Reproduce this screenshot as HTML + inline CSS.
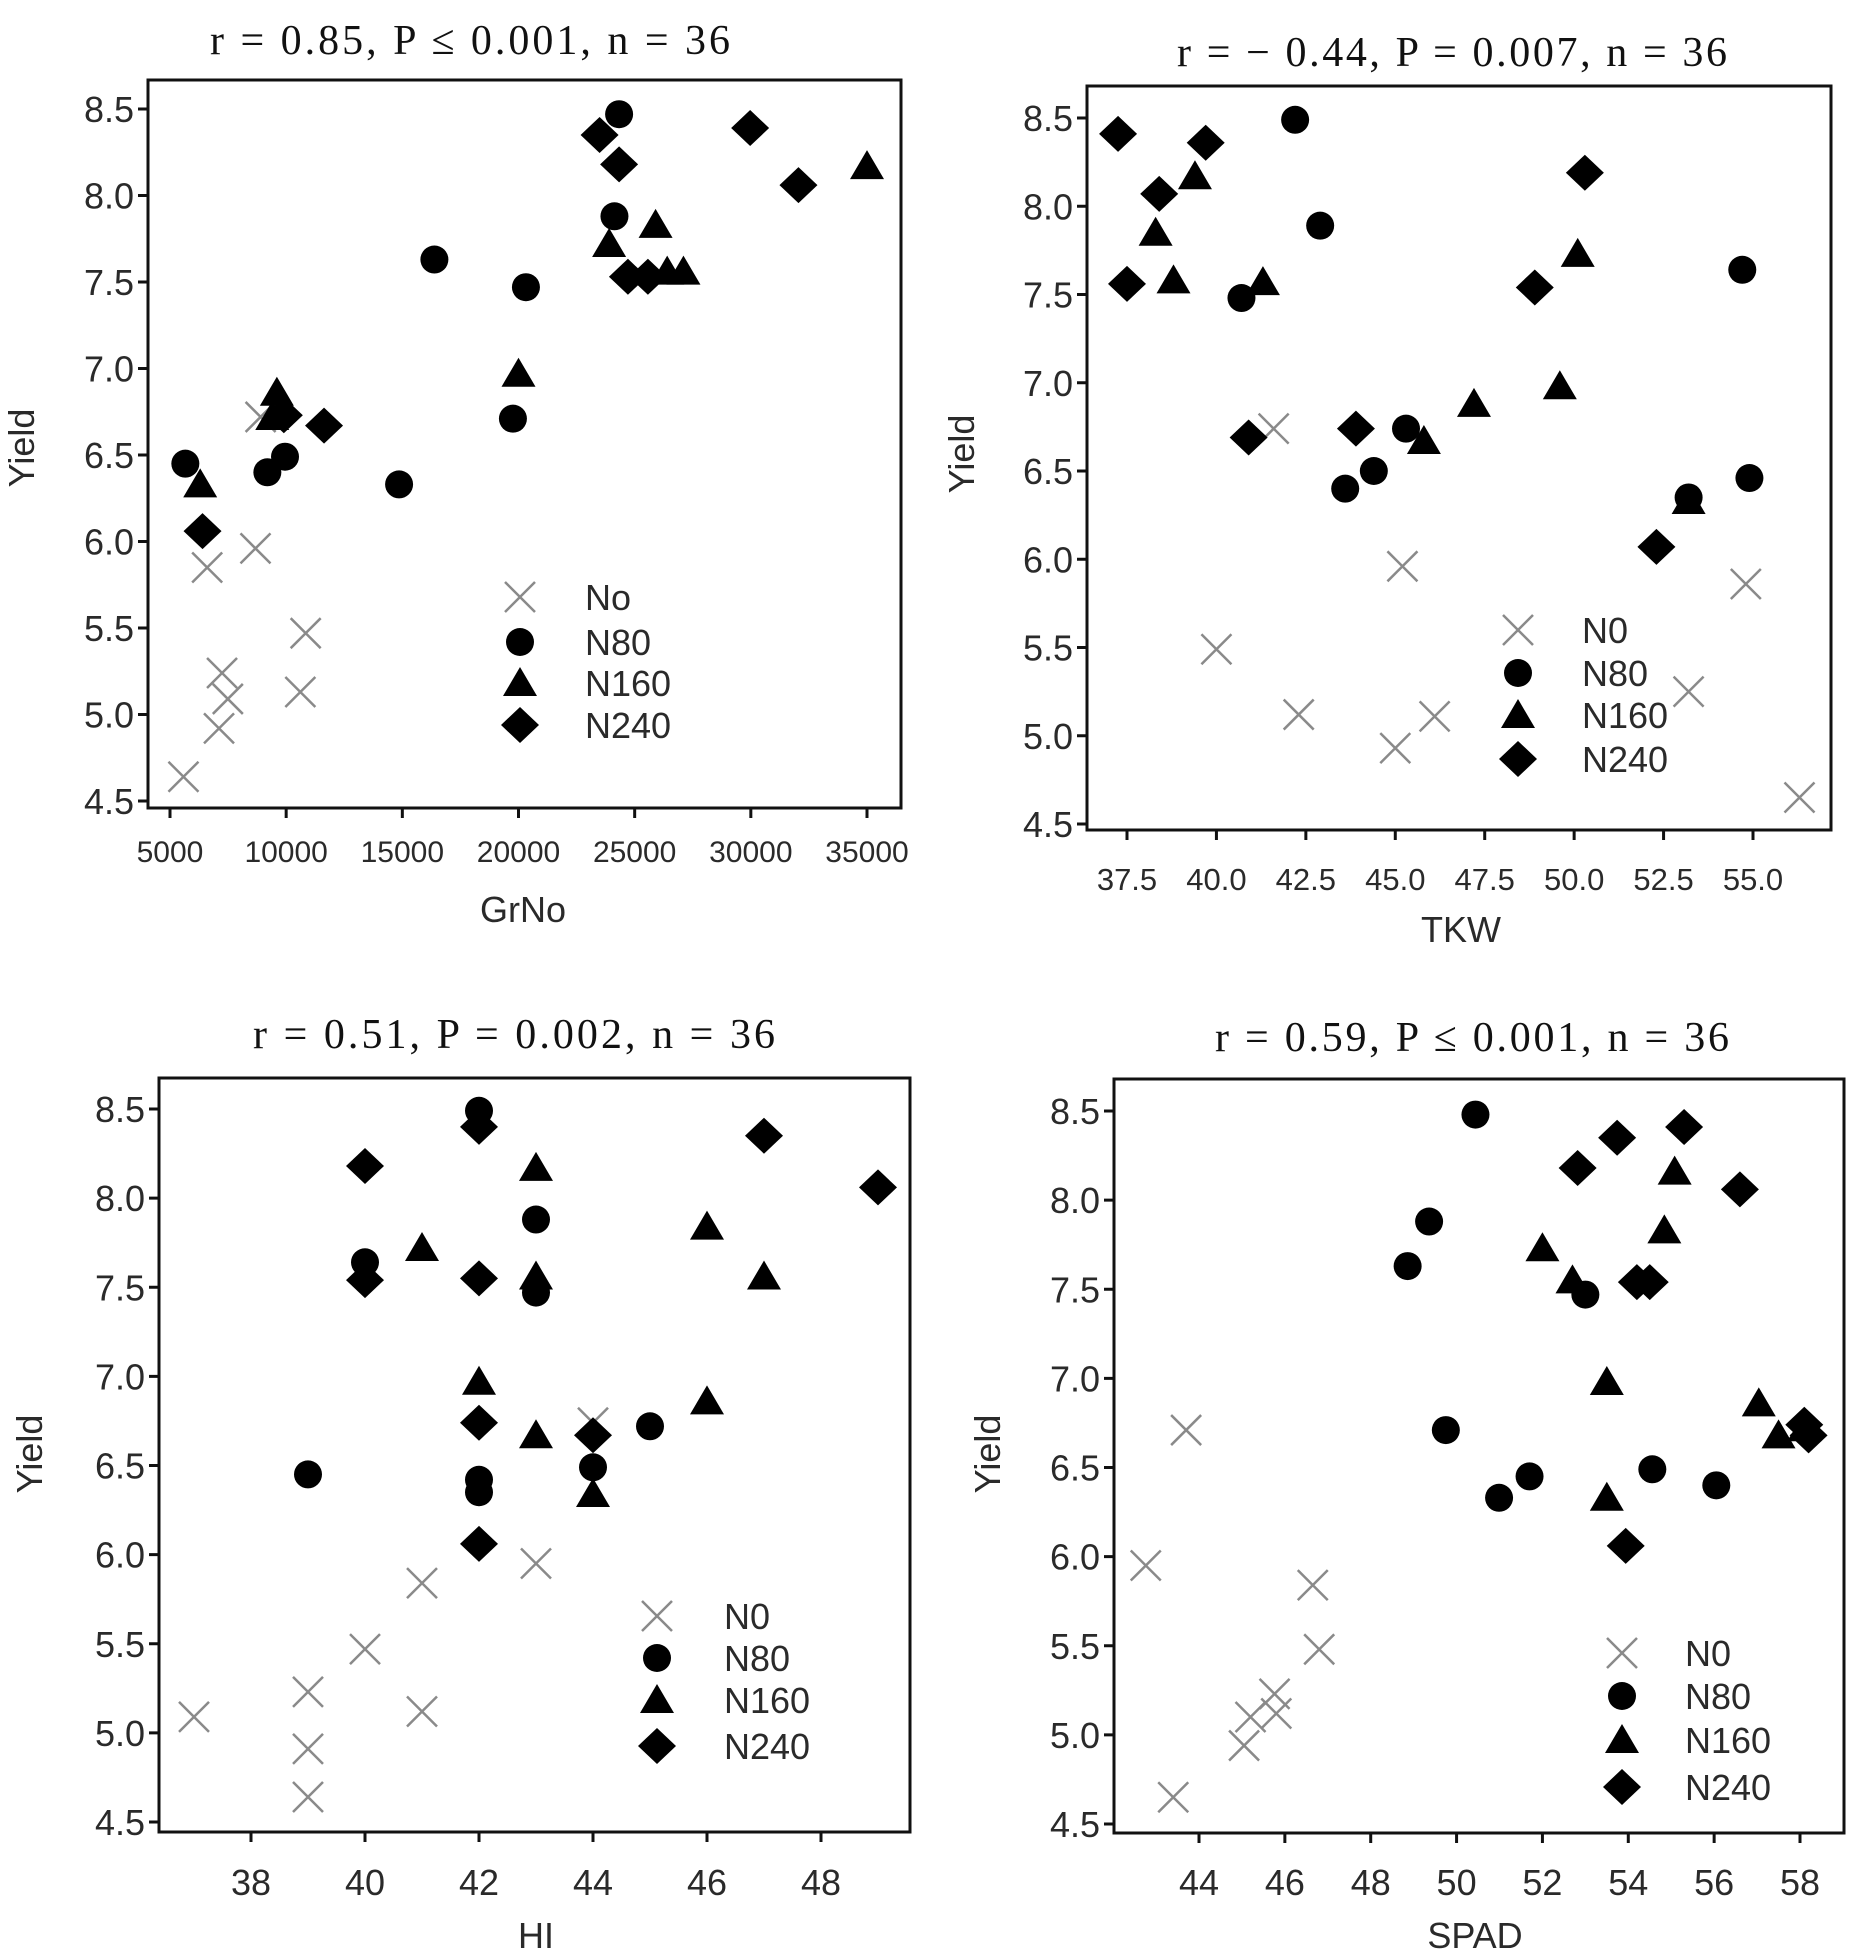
<!DOCTYPE html>
<html><head><meta charset="utf-8"><style>
html,body{margin:0;padding:0;background:#fff;}
svg{display:block;}
text{font-family:"Liberation Sans",sans-serif;fill:#2a2a2a;}
.ttl{font-family:"Liberation Serif",serif;fill:#111;}
</style></head><body>
<svg id="fig" width="1852" height="1949" viewBox="0 0 1852 1949"></svg>
<script>
// ---- Chart 1: GrNo ----
const grnoN0x=[5580,7110,7490,7240,10610,10840,6600,8680,8900];
const grnoN0y=[4.64,4.92,5.09,5.24,5.13,5.47,5.85,5.96,6.72];
const grnoN80x=[5660,9190,9950,14860,16380,20320,19760,24130,24330];
const grnoN80y=[6.45,6.40,6.49,6.33,7.63,7.47,6.71,7.88,8.47];
const grnoN160x=[6300,9600,9400,20000,23900,25900,26400,27100,35000];
const grnoN160y=[6.33,6.86,6.72,6.97,7.72,7.83,7.56,7.56,8.17];
const grnoN240x=[6400,9900,11630,23490,24330,24710,25570,29970,32050];
const grnoN240y=[6.06,6.73,6.67,8.35,8.18,7.53,7.53,8.39,8.06];
const grnoTicks=[5000,10000,15000,20000,25000,30000,35000];
const grnoTickLabels=["5000","10000","15000","20000","25000","30000","35000"];
// ---- Chart 2: TKW ----
const tkwN0x=[41.6,40.0,42.3,45.0,46.1,45.2,53.2,54.8,56.3];
const tkwN0y=[6.74,5.49,5.12,4.93,5.11,5.96,5.25,5.86,4.65];
const tkwN80x=[42.2,42.9,40.7,45.3,44.4,43.6,53.2,54.9,54.7];
const tkwN80y=[8.49,7.89,7.48,6.74,6.50,6.40,6.35,6.46,7.64];
const tkwN160x=[39.4,38.3,38.8,41.3,45.8,47.2,49.6,50.1,53.2];
const tkwN160y=[8.17,7.85,7.58,7.57,6.67,6.88,6.98,7.73,6.33];
const tkwN240x=[37.25,39.7,38.4,37.5,40.9,43.9,48.9,50.3,52.3];
const tkwN240y=[8.41,8.36,8.07,7.56,6.69,6.74,7.54,8.19,6.07];
const tkwTicks=[37.5,40,42.5,45,47.5,50,52.5,55];
const tkwTickLabels=["37.5","40.0","42.5","45.0","47.5","50.0","52.5","55.0"];
// ---- Chart 3: HI ----
const hiN0x=[37,39,39,39,40,41,41,43,44];
const hiN0y=[5.09,5.23,4.91,4.64,5.47,5.84,5.12,5.95,6.74];
const hiN80x=[39,40,42,42,42,43,43,44,45];
const hiN80y=[6.45,7.64,8.49,6.42,6.35,7.88,7.47,6.49,6.72];
const hiN160x=[41,42,43,43,43,44,46,46,47];
const hiN160y=[7.72,6.97,8.17,7.56,6.67,6.34,7.84,6.86,7.56];
const hiN240x=[40,40,42,42,42,42,44,47,49];
const hiN240y=[8.18,7.54,8.40,7.55,6.74,6.06,6.67,8.35,8.06];
const hiTicks=[38,40,42,44,46,48];
const hiTickLabels=["38","40","42","44","46","48"];
// ---- Chart 4: SPAD ----
const spadN0x=[42.76,43.7,43.4,45.05,45.2,45.76,45.8,46.65,46.8];
const spadN0y=[5.95,6.71,4.65,4.94,5.10,5.23,5.12,5.84,5.48];
const spadN80x=[50.44,49.36,48.86,49.75,50.99,51.7,53.0,54.56,56.05];
const spadN80y=[8.48,7.88,7.63,6.71,6.33,6.45,7.47,6.49,6.40];
const spadN160x=[52.0,52.7,53.5,53.5,54.84,55.08,57.04,57.5,58.1];
const spadN160y=[7.73,7.55,6.98,6.33,7.83,8.16,6.86,6.68,6.72];
const spadN240x=[52.82,53.74,55.3,56.6,54.2,54.5,53.94,58.1,58.2];
const spadN240y=[8.18,8.35,8.41,8.06,7.54,7.54,6.06,6.74,6.68];
const spadTicks=[44,46,48,50,52,54,56,58];
const spadTickLabels=["44","46","48","50","52","54","56","58"];
const yTicks=[4.5,5.0,5.5,6.0,6.5,7.0,7.5,8.0,8.5];
const yTickLabels=["4.5","5.0","5.5","6.0","6.5","7.0","7.5","8.0","8.5"];

const NS="http://www.w3.org/2000/svg";
const fig=document.getElementById('fig');
function mk(tag,attrs,parent){const e=document.createElementNS(NS,tag);for(const k in attrs)e.setAttribute(k,attrs[k]);(parent||fig).appendChild(e);return e;}

function drawMarker(g,type,cx,cy){
  let e;
  if(type==='x'){
    e=mk('path',{d:`M${cx-15},${cy-15}L${cx+15},${cy+15}M${cx-15},${cy+15}L${cx+15},${cy-15}`,stroke:'#8a8a8a','stroke-width':2.5,fill:'none'},g);
  }else if(type==='o'){
    e=mk('circle',{cx:cx,cy:cy,r:14,fill:'#000'},g);
  }else if(type==='t'){
    e=mk('path',{d:`M${cx},${cy-16}L${cx+17},${cy+13}L${cx-17},${cy+13}Z`,fill:'#000'},g);
  }else{
    e=mk('path',{d:`M${cx},${cy-18}L${cx+19},${cy}L${cx},${cy+18}L${cx-19},${cy}Z`,fill:'#000'},g);
  }
  return e;
}

function chart(c){
  const g=mk('g',{});
  
  
  const sx=v=>c.xp0+(v-c.xv0)*(c.xp1-c.xp0)/(c.xv1-c.xv0);
  const sy=v=>c.yp0+(v-4.5)*(c.yp1-c.yp0)/(8.5-4.5);
  const t=mk('text',{x:c.tx,y:c.ty,'text-anchor':'middle','font-size':42,class:'ttl',textLength:c.tw,lengthAdjust:'spacing'},g);
  t.textContent=c.title;
  
  
  const box=mk('rect',{x:c.L,y:c.T,width:c.R-c.L,height:c.B-c.T,fill:'none',stroke:'#111','stroke-width':3},g);
  
  
  yTicks.forEach((v,i)=>{
    const y=sy(v);
    mk('line',{x1:c.L-10,x2:c.L,y1:y,y2:y,stroke:'#111','stroke-width':3},g);
    const tl=mk('text',{x:c.L-14,y:y+13,'text-anchor':'end','font-size':36},g);
    tl.textContent=yTickLabels[i];
    
    
  });
  c.xt.forEach((v,i)=>{
    const x=sx(v);
    mk('line',{x1:x,x2:x,y1:c.B,y2:c.B+10,stroke:'#111','stroke-width':3},g);
    const tl=mk('text',{x:x,y:c.xly,'text-anchor':'middle','font-size':c.xfs},g);
    tl.textContent=c.xl[i];
    
    
  });
  const xa=mk('text',{x:c.xax,y:c.xay,'text-anchor':'middle','font-size':36},g);
  xa.textContent=c.xtitle;
  
  
  const ya=mk('text',{x:0,y:0,'text-anchor':'middle','font-size':36,transform:`translate(${c.yax},${c.yay}) rotate(-90)`},g);
  ya.textContent='Yield';
  
  
  const series=[['x',c.s[0],c.s[1]],['o',c.s[2],c.s[3]],['t',c.s[4],c.s[5]],['d',c.s[6],c.s[7]]];
  series.forEach(s=>{
    s[1].forEach((xv,i)=>{
      const m=drawMarker(g,s[0],sx(xv),sy(s[2][i]));
      
      
    });
  });
  const names=c.leg;
  ['x','o','t','d'].forEach((tp,i)=>{
    const y=c.ly[i];
    const m=drawMarker(g,tp,c.lmx,y);
    
    
    const lt=mk('text',{x:c.ltx,y:y+13,'font-size':36},g);
    lt.textContent=names[i];
    
    
  });
}

chart({name:'grno-chart',title:'r = 0.85, P ≤ 0.001, n = 36',tx:470,ty:54,tw:520,L:148,R:901,T:80,B:808,
  xv0:5000,xv1:35000,xp0:170,xp1:867,yp0:801,yp1:109,xt:grnoTicks,xl:grnoTickLabels,xfs:30,xly:862,
  xtitle:'GrNo',xax:523,xay:922,yax:34,yay:448,
  s:[grnoN0x,grnoN0y,grnoN80x,grnoN80y,grnoN160x,grnoN160y,grnoN240x,grnoN240y],
  leg:['No','N80','N160','N240'],lmx:520,ltx:585,ly:[597,642,683,725]});
chart({name:'tkw-chart',title:'r = − 0.44, P = 0.007, n = 36',tx:1452,ty:66,tw:550,L:1087,R:1831,T:86,B:830,
  xv0:37.5,xv1:55,xp0:1127,xp1:1753,yp0:824,yp1:118,xt:tkwTicks,xl:tkwTickLabels,xfs:31,xly:890,
  xtitle:'TKW',xax:1461,xay:942,yax:974,yay:454,
  s:[tkwN0x,tkwN0y,tkwN80x,tkwN80y,tkwN160x,tkwN160y,tkwN240x,tkwN240y],
  leg:['N0','N80','N160','N240'],lmx:1518,ltx:1582,ly:[630,673,715,759]});
chart({name:'hi-chart',title:'r = 0.51, P = 0.002, n = 36',tx:514,ty:1048,tw:522,L:159,R:910,T:1078,B:1832,
  xv0:38,xv1:48,xp0:251,xp1:821,yp0:1822,yp1:1109,xt:hiTicks,xl:hiTickLabels,xfs:36,xly:1895,
  xtitle:'HI',xax:536,xay:1948,yax:42,yay:1454,
  s:[hiN0x,hiN0y,hiN80x,hiN80y,hiN160x,hiN160y,hiN240x,hiN240y],
  leg:['N0','N80','N160','N240'],lmx:657,ltx:724,ly:[1616,1658,1700,1746]});
chart({name:'spad-chart',title:'r = 0.59, P ≤ 0.001, n = 36',tx:1472,ty:1051,tw:514,L:1114,R:1844,T:1079,B:1833,
  xv0:44,xv1:58,xp0:1199,xp1:1800,yp0:1824,yp1:1111,xt:spadTicks,xl:spadTickLabels,xfs:36,xly:1895,
  xtitle:'SPAD',xax:1475,xay:1948,yax:1000,yay:1454,
  s:[spadN0x,spadN0y,spadN80x,spadN80y,spadN160x,spadN160y,spadN240x,spadN240y],
  leg:['N0','N80','N160','N240'],lmx:1622,ltx:1685,ly:[1653,1696,1740,1787]});
</script>
</body></html>
